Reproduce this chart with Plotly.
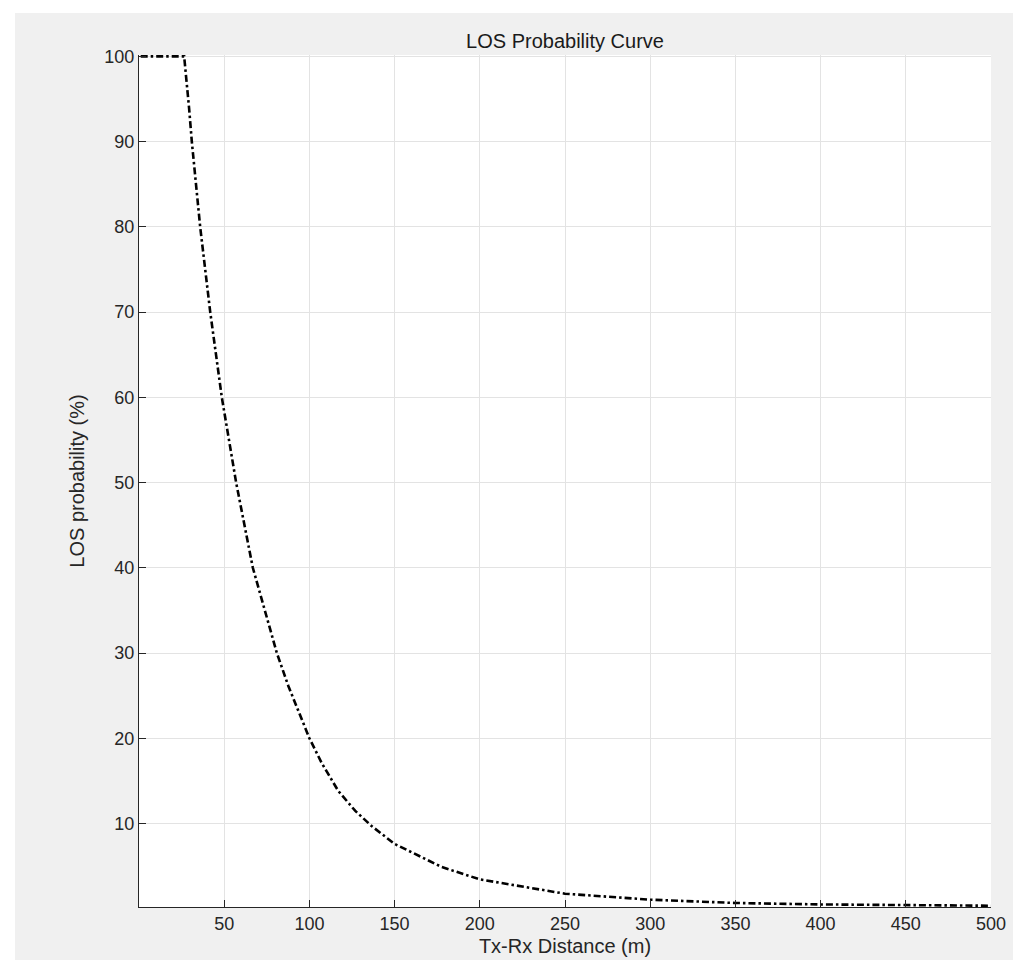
import plotly.graph_objects as go

# Data
distance_m = [1, 26.5, 29.4, 31, 35.9, 41.8, 48.6, 57, 66.8, 80.9, 87.7, 100,
              107.2, 117, 126.8, 136.5, 150, 165.9, 177.6, 200, 250, 300, 350,
              400, 450, 500]
los_prob_pct = [100, 100, 93.9, 90, 80, 70, 60, 50, 40, 30, 26.1, 20,
                17.1, 13.8, 11.5, 9.7, 7.6, 6.0, 4.9, 3.44, 1.76, 1.06, 0.67,
                0.5, 0.4, 0.35]
x_ticks = [50, 100, 150, 200, 250, 300, 350, 400, 450, 500]
y_ticks = [10, 20, 30, 40, 50, 60, 70, 80, 90, 100]

W, H = 1021, 960
L, R, T, B = 131, 38, 47, 61
pw, ph = W - L - R, H - T - B

def px_x(p):
    return (p - L) / pw

def px_y(p):
    return (H - B - p) / ph

font_family = "Liberation Sans, Arial, Helvetica, sans-serif"
txt = "#262626"
grid = "#e3e3e3"

fig = go.Figure()
fig.add_trace(go.Scatter(
    x=distance_m, y=los_prob_pct, mode="lines",
    line=dict(color="black", width=2.6, dash="7px,3px,2.5px,3px"),
    showlegend=False, hoverinfo="x+y",
))

fig.update_layout(
    width=W, height=H,
    margin=dict(l=L, r=R, t=T, b=B, pad=0),
    paper_bgcolor="#f0f0f0", plot_bgcolor="white",
    font=dict(family=font_family, color=txt, size=18),
    title=dict(text="LOS Probability Curve", x=px_x(557), xref="paper",
               y=1 - 33 / H, yref="container", xanchor="center", yanchor="middle",
               font=dict(size=20, color="#1a1a1a")),
    shapes=[
        dict(type="rect", xref="paper", yref="paper", x0=px_x(0), x1=px_x(7),
             y0=px_y(H), y1=px_y(0), fillcolor="white", line=dict(width=0), layer="below"),
        dict(type="rect", xref="paper", yref="paper", x0=px_x(0), x1=px_x(W),
             y0=px_y(5), y1=px_y(0), fillcolor="white", line=dict(width=0), layer="below"),
    ],
)

fig.update_xaxes(
    range=[0, 500], tickvals=x_ticks, ticktext=[str(v) for v in x_ticks],
    showgrid=True, gridcolor=grid, gridwidth=1, zeroline=False,
    showline=True, linecolor=txt, linewidth=1, mirror=False,
    ticks="inside", ticklen=7, tickcolor=txt, tickwidth=1,
    tickfont=dict(size=18, color=txt),
    title=dict(text="Tx-Rx Distance (m)", font=dict(size=20, color=txt), standoff=6),
)
fig.update_yaxes(
    range=[0.2, 100.16], tickvals=y_ticks, ticktext=[str(v) for v in y_ticks],
    showgrid=True, gridcolor=grid, gridwidth=1, zeroline=False,
    showline=True, linecolor=txt, linewidth=1, mirror=False,
    ticks="inside", ticklen=7, tickcolor=txt, tickwidth=1,
    tickfont=dict(size=18, color=txt),
    title=dict(text="LOS probability (%)", font=dict(size=20, color=txt), standoff=14),
)

fig.write_html("out.html")
